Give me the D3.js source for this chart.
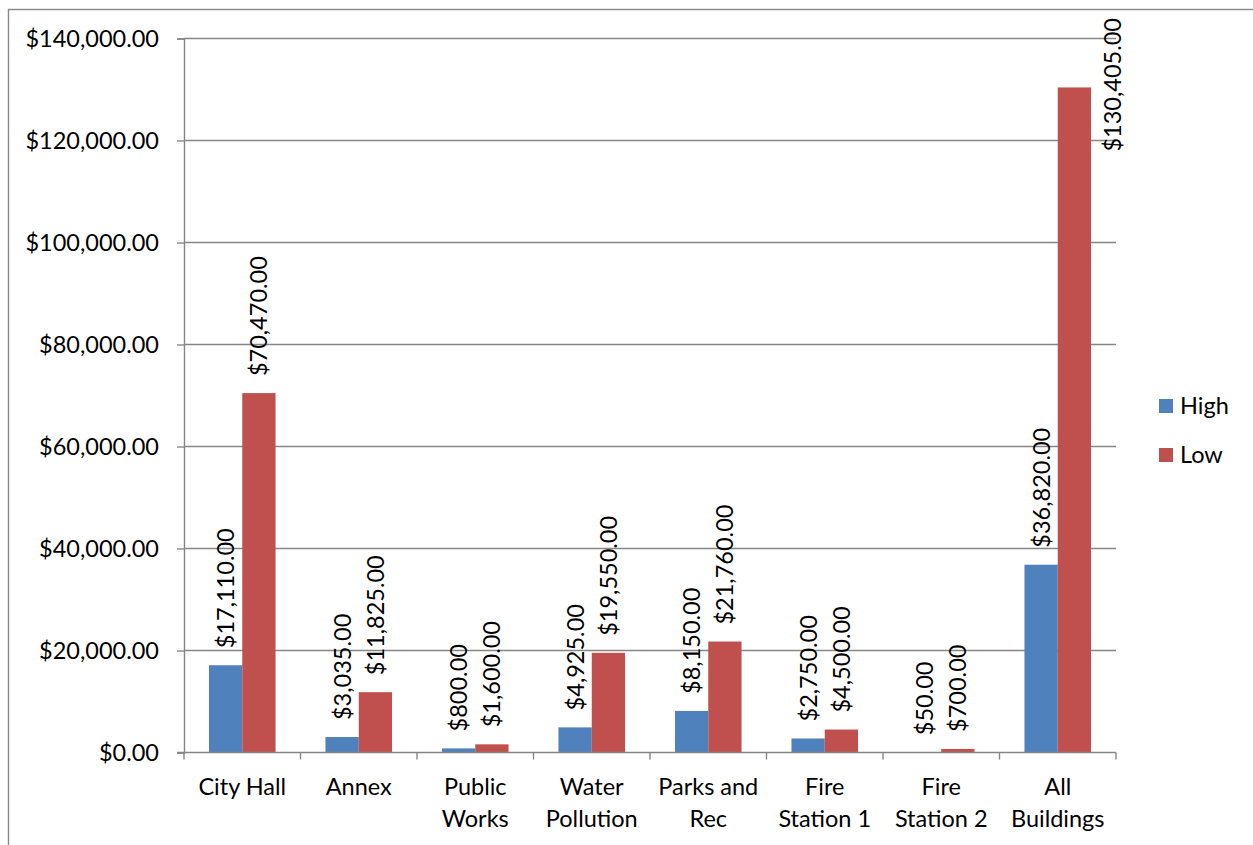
<!DOCTYPE html>
<html>
<head>
<meta charset="utf-8">
<script src="https://cdn.jsdelivr.net/npm/d3@7"></script>
<style>
  html, body { margin: 0; padding: 0; background: #ffffff; }
  svg { display: block; }
  text { font-family: Lato, "Open Sans", sans-serif; fill: #000; }
</style>
</head>
<body>
<svg id="chart" width="1253" height="845"></svg>
<script>
// Cost estimates per building
const categories = ["City Hall", "Annex", "Public Works", "Water Pollution", "Parks and Rec",
                    "Fire Station 1", "Fire Station 2", "All Buildings"];
const categoryLines = [["City Hall"], ["Annex"], ["Public", "Works"], ["Water", "Pollution"],
                       ["Parks and", "Rec"], ["Fire", "Station 1"], ["Fire", "Station 2"], ["All", "Buildings"]];
const highValues = [17110, 3035, 800, 4925, 8150, 2750, 50, 36820];
const lowValues  = [70470, 11825, 1600, 19550, 21760, 4500, 700, 130405];
const seriesNames = ["High", "Low"];
const seriesColors = ["#4F81BD", "#C0504D"];
const yTicks = [0, 20000, 40000, 60000, 80000, 100000, 120000, 140000];

const svg = d3.select("#chart");
const W = 1253, H = 845;
const plot = { left: 184, right: 1116, top: 38.5, bottom: 752.5 };
const fontSize = 23.5;
const gridColor = "#868686";
const money = d3.format("$,.2f");

// outer chart frame
svg.append("rect")
  .attr("x", 8.5).attr("y", 9.5)
  .attr("width", W + 20).attr("height", H + 20)
  .attr("fill", "none").attr("stroke", "#898989").attr("stroke-width", 1.4);

const x = d3.scaleBand().domain(categories).range([plot.left, plot.right]).padding(0);
const y = d3.scaleLinear().domain([0, 140000]).range([plot.bottom, plot.top]);

// bar geometry: gap between groups is 150% of a bar width
const gapWidth = 1.5;
const barW = x.step() / (seriesNames.length + gapWidth);
const groupOffset = barW * gapWidth / 2;
const xs = d3.scaleBand().domain(seriesNames)
  .range([groupOffset, groupOffset + barW * seriesNames.length]).padding(0);

// horizontal gridlines
svg.append("g").selectAll("line")
  .data(yTicks.filter(d => d > 0))
  .join("line")
  .attr("x1", plot.left).attr("x2", plot.right)
  .attr("y1", d => y(d)).attr("y2", d => y(d))
  .attr("stroke", gridColor).attr("stroke-width", 1.4);

// y axis
const yAxis = svg.append("g")
  .attr("transform", `translate(${plot.left},0)`)
  .call(d3.axisLeft(y).tickValues(yTicks).tickFormat(money).tickSize(7).tickPadding(18));
yAxis.select(".domain").attr("stroke", gridColor).attr("stroke-width", 1.4);
yAxis.selectAll(".tick line").attr("stroke", gridColor).attr("stroke-width", 1.4);
yAxis.selectAll(".tick text")
  .attr("font-size", fontSize).attr("font-family", "Lato, sans-serif").attr("fill", "#000")
  .attr("dy", "0.36em");

// bars
const rows = categories.map((c, i) => ({ category: c, values: [highValues[i], lowValues[i]] }));
const groups = svg.append("g").selectAll("g")
  .data(rows).join("g")
  .attr("transform", d => `translate(${x(d.category)},0)`);

groups.selectAll("rect")
  .data(d => d.values.map((v, j) => ({ series: seriesNames[j], value: v, color: seriesColors[j] })))
  .join("rect")
  .attr("x", d => xs(d.series))
  .attr("width", xs.bandwidth())
  .attr("y", d => y(d.value))
  .attr("height", d => y(0) - y(d.value))
  .attr("fill", d => d.color);

// x axis (drawn over the bar bottoms)
const xAxis = svg.append("g")
  .attr("transform", `translate(0,${plot.bottom})`);
xAxis.append("line")
  .attr("x1", plot.left - 7).attr("x2", plot.right)
  .attr("stroke", gridColor).attr("stroke-width", 1.4);
const boundaries = categories.map(c => x(c)).concat([plot.right]);
xAxis.selectAll("line.tick")
  .data(boundaries).join("line").attr("class", "tick")
  .attr("x1", d => d).attr("x2", d => d)
  .attr("y1", 0).attr("y2", 7)
  .attr("stroke", gridColor).attr("stroke-width", 1.4);

// category labels
const catLabels = svg.append("g").selectAll("text")
  .data(categories).join("text")
  .attr("x", d => x(d) + x.bandwidth() / 2)
  .attr("y", 795)
  .attr("text-anchor", "middle")
  .attr("font-size", fontSize);
catLabels.each(function(d, i) {
  d3.select(this).selectAll("tspan")
    .data(categoryLines[i]).join("tspan")
    .attr("x", x(d) + x.bandwidth() / 2)
    .attr("dy", (t, k) => k === 0 ? 0 : 32)
    .text(t => t);
});

// value labels, rotated above each bar
const labelGap = 17;
const labelMinTop = 18;
const labelLayer = svg.append("g");
rows.forEach(row => {
  row.values.forEach((v, j) => {
    const bx = x(row.category) + xs(seriesNames[j]);
    const cx = bx + xs.bandwidth() / 2;
    const top = y(v);
    const t = labelLayer.append("text")
      .attr("font-size", fontSize)
      .attr("text-anchor", "start")
      .attr("dy", "0.36em")
      .text(money(v));
    const len = t.node().getComputedTextLength();
    let ax = cx, ay = top - labelGap;
    if (ay - len < labelMinTop) {
      // no room above the bar: pin to the top and move beside the bar
      ay = labelMinTop + len;
      ax = bx + xs.bandwidth() + 21;
    }
    t.attr("transform", `translate(${ax},${ay}) rotate(-90)`);
  });
});

// legend
const legend = svg.append("g").selectAll("g")
  .data(seriesNames).join("g")
  .attr("transform", (d, i) => `translate(1159,${399 + i * 49})`);
legend.append("rect")
  .attr("width", 14).attr("height", 14)
  .attr("fill", (d, i) => seriesColors[i]);
legend.append("text")
  .attr("x", 21).attr("y", 7).attr("dy", "0.36em")
  .attr("font-size", fontSize)
  .text(d => d);
</script>
</body>
</html>
